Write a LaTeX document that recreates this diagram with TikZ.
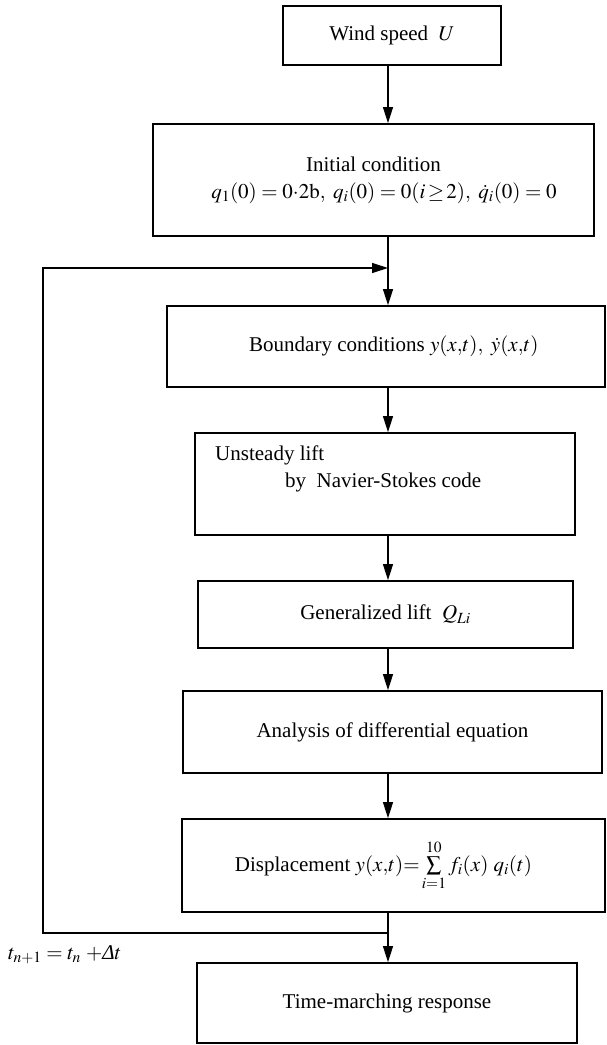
\documentclass[tikz,border=0pt]{standalone}
\usepackage{mathptmx}
\usepackage[no-math]{fontspec}
\setmainfont{Liberation Serif}
\usetikzlibrary{arrows.meta}

\begin{document}
\begin{tikzpicture}[x=1pt,y=-1pt,
		every node/.style={inner sep=0pt,font=\fontsize{21}{27}\selectfont},
		blk/.style={draw,line width=1.8pt,align=center},
		arr/.style={line width=1.2pt,-{Triangle[length=16pt,width=10pt]}}]
	\useasboundingbox (0,0) rectangle (607,1045);
	\node[blk,minimum width=218,minimum height=59] (wind) at (392,35.5) {Wind speed\ \ $U$};
	\node[blk,minimum width=441,minimum height=112] (init) at (373.5,180)
		{Initial condition\\ \ \ \ \ $q_1(0) = 0{\cdot}2\mathrm{b},\ q_i(0) = 0(i\,{\geq}\,2),\ \dot{q}_i(0) = 0$};
	\node[blk,minimum width=438,minimum height=81] (bound) at (386,346.5)
		{\ \ \ Boundary conditions $y(x{,}t),\ \dot{y}(x{,}t)$};
	\node[blk,minimum width=380,minimum height=102] (unst) at (385,484) {};
	\node[anchor=west] (unst1) at (215,455) {Unsteady lift};
	\node[anchor=west] (unst2) at (285,482) {by\ \ Navier-Stokes code};
	\node[blk,minimum width=375,minimum height=67] (glift) at (385.5,614.5) {Generalized lift\ \ $Q_{Li}$};
	\node[blk,minimum width=419,minimum height=82] (anal) at (392.5,732) {Analysis of differential equation};
	\node[blk,minimum width=423,minimum height=93] (disp) at (393.5,865.5)
		{Displacement $y(x{,}t){=}\sum\limits_{i=1}^{10} f_i(x)\ q_i(t)$\hspace*{20pt}};
	\node[blk,minimum width=380,minimum height=80] (march) at (387,1003) {Time-marching response};
	\node[anchor=west] (tstep) at (8,955) {$t_{n+1} = t_n\ {+}\textit{Δ}t$};

	\coordinate (fbtop) at (388,268);
	\coordinate (fbbot) at (388,933);
	\coordinate (fbleft) at (43,268);
	\foreach \a/\b in {wind/init,init/bound,bound/unst,unst/glift,glift/anal,anal/disp,disp/march}
		\draw[arr] (\a.south -| fbtop) -- (\b.north -| fbtop);
	\draw[arr] (fbbot) -- (fbbot -| fbleft) -- (fbleft) -- (fbtop);
\end{tikzpicture}
\end{document}
